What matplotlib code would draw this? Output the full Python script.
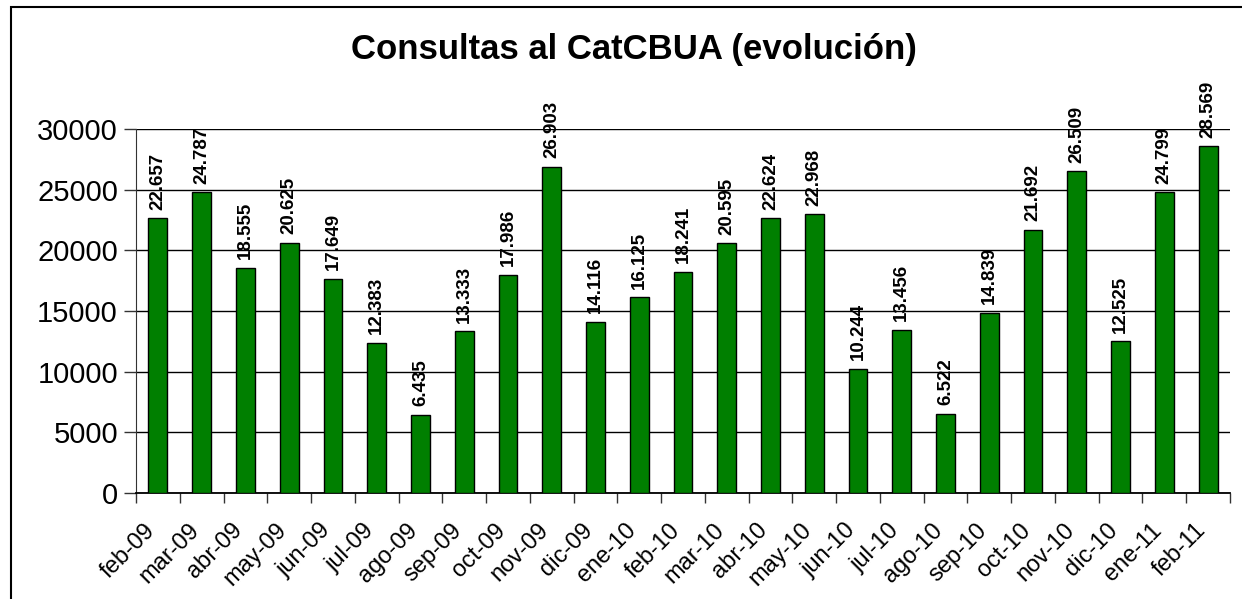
import matplotlib.pyplot as plt
import numpy as np

months = ["feb-09", "mar-09", "abr-09", "may-09", "jun-09", "jul-09", "ago-09",
          "sep-09", "oct-09", "nov-09", "dic-09", "ene-10", "feb-10", "mar-10",
          "abr-10", "may-10", "jun-10", "jul-10", "ago-10", "sep-10", "oct-10",
          "nov-10", "dic-10", "ene-11", "feb-11"]
consultas = [22657, 24787, 18555, 20625, 17649, 12383, 6435, 13333, 17986, 26903,
             14116, 16125, 18241, 20595, 22624, 22968, 10244, 13456, 6522, 14839,
             21692, 26509, 12525, 24799, 28569]
y_ticks = [0, 5000, 10000, 15000, 20000, 25000, 30000]

plt.rcParams['font.family'] = ['Liberation Sans', 'DejaVu Sans']

W, H = 1242, 599
fig = plt.figure(figsize=(W / 100, H / 100), dpi=100)
ax = fig.add_axes([136 / W, 1 - 493 / H, (1230 - 136) / W, (493 - 129) / H])

# outer chart frame
fig.patches.append(plt.Rectangle((11 / W, -0.1), 1.2, 1 - 7 / H + 0.1,
                                 transform=fig.transFigure, fill=False,
                                 edgecolor='black', linewidth=1.5))

x = np.arange(len(months))
ax.bar(x, consultas, width=0.43, color='#007f00', edgecolor='black',
       linewidth=1.0, zorder=3)

for xi, v in zip(x, consultas):
    lbl = f"{v:,}".replace(",", ".")
    ax.text(xi, v + 700, lbl, rotation=90, ha='center', va='bottom',
            fontsize=13.5, fontweight='bold', zorder=4)

ax.set_xlim(-0.5, len(months) - 0.5)
ax.set_ylim(0, 30000)
ax.set_yticks(y_ticks)
ax.tick_params(axis='y', labelsize=21, length=9, width=1, color='#333333', pad=4)
ax.yaxis.grid(True, color='black', linewidth=1)
ax.set_axisbelow(True)

ax.set_xticks(np.arange(len(months) + 1) - 0.5)
ax.set_xticklabels([])
ax.tick_params(axis='x', length=7, width=1, color='#333333')
for xi, m in zip(x, months):
    ax.text(xi - 0.14, -2800, m, rotation=45, ha='right', va='center',
            fontsize=17, rotation_mode='anchor')

for s in ['top', 'right']:
    ax.spines[s].set_visible(False)
ax.spines['left'].set_color('#333333')
ax.spines['bottom'].set_color('black')
ax.spines['bottom'].set_linewidth(1.3)

fig.text(634 / W, 1 - 50 / H, "Consultas al CatCBUA (evolución)",
         ha='center', va='center', fontsize=25, fontweight='bold')

fig.savefig("out.png", dpi=100)
